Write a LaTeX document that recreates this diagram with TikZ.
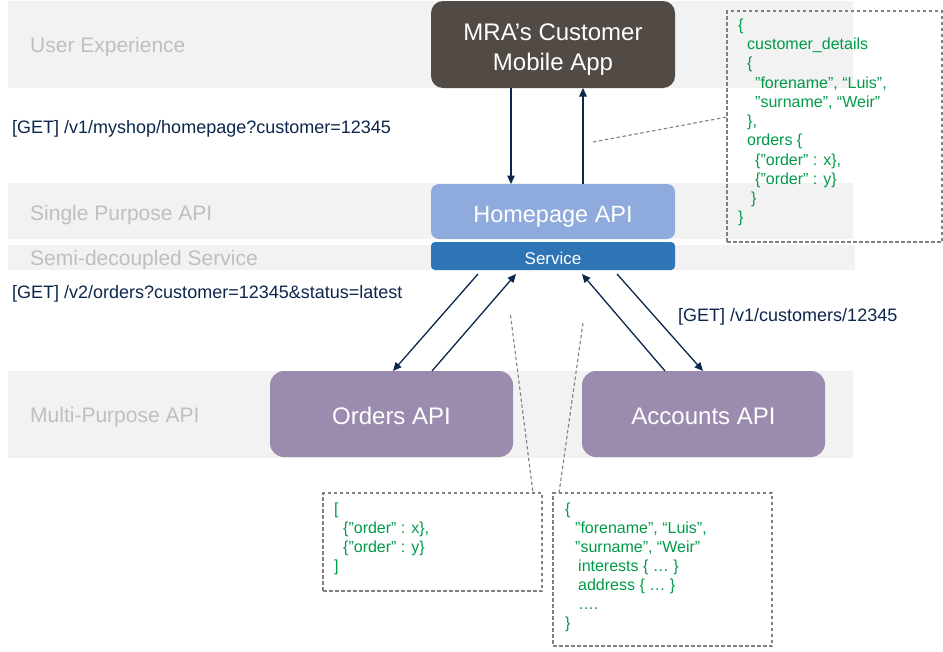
\documentclass[tikz,border=0pt]{standalone}
\usepackage{fontspec}
\setmainfont{Liberation Sans}
\usetikzlibrary{arrows.meta}
\definecolor{bandgray}{RGB}{242,242,242}
\definecolor{bandtext}{RGB}{191,191,191}
\definecolor{mrabrown}{RGB}{82,74,68}
\definecolor{hpblue}{RGB}{143,170,220}
\definecolor{svblue}{RGB}{46,117,182}
\definecolor{apipurple}{RGB}{155,139,174}
\definecolor{navy}{RGB}{12,38,76}
\definecolor{jsongreen}{RGB}{0,155,72}
\definecolor{dashgray}{RGB}{128,128,128}
\begin{document}
\begin{tikzpicture}[x=1pt,y=-1pt,
  band/.style={fill=bandgray,draw=none,inner sep=0pt,outer sep=0pt,anchor=north west},
  bandlabel/.style={text=bandtext,font=\fontsize{21}{25}\selectfont,anchor=base west,inner sep=0pt},
  apibox/.style={draw=none,inner sep=0pt,outer sep=0pt,text=white,align=center},
  mratext/.style={text=white,font=\fontsize{24}{29}\selectfont,anchor=base,inner sep=0pt},
  getlabel/.style={text=navy,font=\fontsize{18}{22}\selectfont,anchor=base west,inner sep=0pt},
  jsonbox/.style={draw=dashgray,line width=1.1pt,dash pattern=on 3.5pt off 2.5pt,inner sep=0pt,outer sep=0pt,anchor=north west},
  jline/.style={text=jsongreen,font=\fontsize{16}{19}\selectfont,anchor=base west,inner sep=0pt},
  arr/.style={draw=navy,line width=1.3pt,-{Triangle[length=8.5pt,width=7.5pt]}},
  leader/.style={draw=dashgray,line width=1.1pt,dash pattern=on 3.5pt off 2.5pt}
]
\useasboundingbox (0,0) rectangle (943,651);
\fill[white] (0,0) rectangle (943,651);

% bands
\node[band,minimum width=845pt,minimum height=87pt] (b1) at (8,1) {};
\node[band,minimum width=845pt,minimum height=56pt] (b2) at (8,183) {};
\node[band,minimum width=847pt,minimum height=25pt] (b3) at (8,245) {};
\node[band,minimum width=845pt,minimum height=87pt] (b4) at (8,371) {};

\node[bandlabel] (l1) at (30,52.7) {User Experience};
\node[bandlabel] (l2) at (30,220) {Single Purpose API};
\node[bandlabel] (l3) at (30,265.7) {Semi-decoupled Service};
\node[bandlabel] (l4) at (30,422.5) {Multi-Purpose API};

% main nodes
\node[apibox,fill=mrabrown,rounded corners=12pt,minimum width=244pt,minimum height=87pt] (mra) at (553,44.5) {};
\node[mratext] (mra1) at (553,40.7) {MRA’s Customer};
\node[mratext] (mra2) at (553,70) {Mobile App};
\node[apibox,fill=hpblue,rounded corners=8pt,minimum width=244pt,minimum height=55pt,
      font=\fontsize{23.5}{28}\selectfont,text height=21pt,text depth=0pt] (hp) at (553,211.5) {Homepage API};
\node[apibox,fill=svblue,rounded corners=4pt,minimum width=244pt,minimum height=28pt,
      font=\fontsize{17}{20}\selectfont,text height=16pt,text depth=0pt] (sv) at (553,256) {Service};
\node[apibox,fill=apipurple,rounded corners=14pt,minimum width=243pt,minimum height=86pt,
      font=\fontsize{24}{29}\selectfont,text height=20.6pt,text depth=0pt] (orders) at (391.5,414) {Orders API};
\node[apibox,fill=apipurple,rounded corners=14pt,minimum width=243pt,minimum height=86pt,
      font=\fontsize{24}{29}\selectfont,text height=20.6pt,text depth=0pt] (accounts) at (703.5,414) {Accounts API};

% GET labels
\node[getlabel] (g1) at (12,133.5) {[GET] /v1/myshop/homepage?customer=12345};
\node[getlabel] (g2) at (12,298.5) {[GET] /v2/orders?customer=12345\&status=latest};
\node[getlabel] (g3) at (678,321) {[GET] /v1/customers/12345};

% arrows
\draw[arr] ([xshift=80pt]mra.south west) -- ([xshift=80pt]hp.north west);
\draw[arr] ([xshift=152pt]hp.north west) -- ([xshift=152pt]mra.south west);
\draw[arr] ([xshift=47pt,yshift=-4pt]sv.south west) -- ([xshift=123pt]orders.north west);
\draw[arr] ([xshift=162pt]orders.north west) -- ([xshift=85pt,yshift=-4pt]sv.south west);
\draw[arr] ([xshift=83pt]accounts.north west) -- ([xshift=151pt,yshift=-4pt]sv.south west);
\draw[arr] ([xshift=186pt,yshift=-4pt]sv.south west) -- ([xshift=121pt]accounts.north west);

% JSON boxes
\node[jsonbox,minimum width=215pt,minimum height=231pt] (jtop) at (727,11) {};
\node[jsonbox,minimum width=219pt,minimum height=98pt] (jord) at (323,493) {};
\node[jsonbox,minimum width=219pt,minimum height=153pt] (jacc) at (553,493) {};

% leaders
\coordinate (c1) at (593,142);
\coordinate (c2) at (510.5,315);
\coordinate (c3) at (583,323);
\draw[leader] (c1) -- ([yshift=-106pt]jtop.north west);
\draw[leader] (c2) -- ([xshift=210pt]jord.north west);
\draw[leader] (c3) -- ([xshift=6pt]jacc.north west);

% JSON text top
\node[jline] (j1) at (738,30.3) {\{};
\node[jline] (j2) at (747,49.5) {customer\_details};
\node[jline] (j3) at (747,68.8) {\{};
\node[jline] (j4) at (755,88) {”forename”, “Luis”,};
\node[jline] (j5) at (755,107.3) {”surname”, “Weir”};
\node[jline] (j6) at (747,126.5) {\},};
\node[jline] (j7) at (747,145.8) {orders \{};
\node[jline] (j8) at (755,165) {\{”order” : x\},};
\node[jline] (j9) at (755,184.3) {\{”order” : y\}};
\node[jline] (j10) at (751,203.5) {\}};
\node[jline] (j11) at (738,222.8) {\}};

% JSON text orders
\node[jline] (o1) at (334,514) {[};
\node[jline] (o2) at (343,533) {\{”order” : x\},};
\node[jline] (o3) at (343,552) {\{”order” : y\}};
\node[jline] (o4) at (334,571) {]};

% JSON text accounts
\node[jline] (a1) at (565,514) {\{};
\node[jline] (a2) at (575,533) {”forename”, “Luis”,};
\node[jline] (a3) at (575,552) {”surname”, “Weir”};
\node[jline] (a4) at (578,571.5) {interests \{ … \}};
\node[jline] (a5) at (578,590.5) {address \{ … \}};
\node[jline] (a6) at (578,609.5) {….};
\node[jline] (a7) at (565,628.5) {\}};
\end{tikzpicture}
\end{document}
